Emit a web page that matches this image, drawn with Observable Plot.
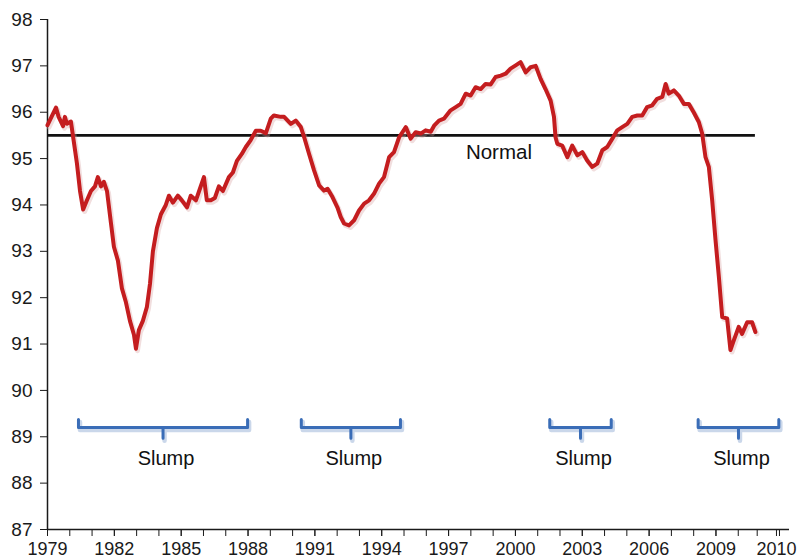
<!DOCTYPE html>
<html>
<head>
<meta charset="utf-8">
<script src="https://cdn.jsdelivr.net/npm/d3@7"></script>
<script src="https://cdn.jsdelivr.net/npm/@observablehq/plot@0.6"></script>
<style>
  html, body { margin: 0; padding: 0; background: #fff; }
  #chart svg { display: block; }
  #chart g[aria-label="y-axis tick label"] { font-size: 19px !important; }
  #chart g[aria-label="x-axis tick label"] { font-size: 18px !important; }
</style>
</head>
<body>
<div id="chart"></div>
<script>
// ---- Data ----
const years = [
  1979.0, 1979.38, 1979.5, 1979.7, 1979.78, 1979.87, 1980.05, 1980.14, 1980.32, 1980.46,
  1980.6, 1980.77, 1980.95, 1981.13, 1981.26, 1981.4, 1981.53, 1981.67, 1981.85, 1981.98,
  1982.16, 1982.34, 1982.52, 1982.7, 1982.88, 1982.97, 1983.1, 1983.28, 1983.46, 1983.6,
  1983.73, 1983.91, 1984.09, 1984.31, 1984.45, 1984.63, 1984.85, 1985.03, 1985.26, 1985.43,
  1985.66, 1985.84, 1986.02, 1986.15, 1986.33, 1986.51, 1986.69, 1986.87, 1987.14, 1987.32,
  1987.5, 1987.72, 1987.9, 1988.12, 1988.35, 1988.57, 1988.8, 1989.02, 1989.16, 1989.47,
  1989.62, 1989.92, 1990.14, 1990.37, 1990.52, 1990.74, 1990.96, 1991.19, 1991.41, 1991.57,
  1991.79, 1992.01, 1992.16, 1992.31, 1992.53, 1992.76, 1992.98, 1993.21, 1993.43, 1993.65,
  1993.88, 1994.1, 1994.33, 1994.55, 1994.78, 1995.08, 1995.3, 1995.52, 1995.75, 1995.97,
  1996.2, 1996.35, 1996.57, 1996.79, 1997.09, 1997.32, 1997.54, 1997.77, 1997.99, 1998.21,
  1998.44, 1998.66, 1998.89, 1999.11, 1999.34, 1999.56, 1999.78, 2000.01, 2000.23, 2000.46,
  2000.68, 2000.91, 2001.13, 2001.35, 2001.58, 2001.73, 2001.8, 2001.88, 2002.1, 2002.33,
  2002.55, 2002.78, 2003.0, 2003.22, 2003.45, 2003.67, 2003.9, 2004.12, 2004.35, 2004.57,
  2004.79, 2005.02, 2005.24, 2005.47, 2005.69, 2005.91, 2006.14, 2006.36, 2006.59, 2006.74,
  2006.88, 2007.11, 2007.33, 2007.56, 2007.78, 2008.0, 2008.23, 2008.38, 2008.53, 2008.68,
  2008.83, 2008.98, 2009.13, 2009.28, 2009.5, 2009.65, 2009.8, 2010.02, 2010.17, 2010.4,
  2010.62, 2010.77
];
const rates = [
  95.72, 96.1, 95.9, 95.7, 95.9, 95.75, 95.8, 95.5, 94.9, 94.3,
  93.9, 94.1, 94.3, 94.4, 94.6, 94.4, 94.5, 94.3, 93.6, 93.1,
  92.8, 92.2, 91.9, 91.5, 91.2, 90.9, 91.3, 91.5, 91.8, 92.3,
  93.0, 93.5, 93.8, 94.0, 94.2, 94.05, 94.2, 94.1, 93.95, 94.2,
  94.1, 94.35, 94.6, 94.1, 94.1, 94.15, 94.4, 94.3, 94.6, 94.7,
  94.95, 95.1, 95.25, 95.4, 95.6, 95.6, 95.55, 95.86, 95.93, 95.9,
  95.9, 95.75, 95.82, 95.68, 95.46, 95.1, 94.75, 94.42, 94.31, 94.35,
  94.17, 93.95, 93.74, 93.6, 93.56, 93.67, 93.88, 94.03, 94.1, 94.24,
  94.46, 94.6, 95.03, 95.14, 95.46, 95.68, 95.43, 95.57, 95.54, 95.61,
  95.58, 95.71, 95.82, 95.86, 96.04, 96.11, 96.18, 96.4, 96.36, 96.54,
  96.5, 96.61, 96.6, 96.76, 96.79, 96.83, 96.94, 97.01, 97.08, 96.86,
  96.97, 97.0, 96.72, 96.5, 96.25, 95.9, 95.46, 95.32, 95.28, 95.03,
  95.28, 95.07, 95.14, 94.96, 94.82, 94.89, 95.18, 95.25, 95.43, 95.61,
  95.68, 95.75, 95.9, 95.93, 95.93, 96.11, 96.15, 96.29, 96.33, 96.61,
  96.4, 96.47, 96.36, 96.18, 96.18, 96.0, 95.79, 95.54, 95.03, 94.82,
  94.1, 93.24, 92.45, 91.58, 91.55, 90.87, 91.08, 91.37, 91.22, 91.47,
  91.47, 91.26
];

const normalLevel = 95.5;
const normalLabel = "Normal";

const slumpStart = [1980.39, 1990.39, 2001.54, 2008.2];
const slumpEnd   = [1987.98, 1994.84, 2004.3, 2011.82];
const slumpLabels = ["Slump", "Slump", "Slump", "Slump"];

const yTicks = [87, 88, 89, 90, 91, 92, 93, 94, 95, 96, 97, 98];
// tick marks as drawn on the reference axis (the last three are unevenly spaced there)
const xTickYears = [...d3.range(1979, 2011), 2010.85, 2011.85];
const xLabelYears = [1979, 1982, 1985, 1988, 1991, 1994, 1997, 2000, 2003, 2006, 2009];
const xLabels = ["1979", "1982", "1985", "1988", "1991", "1994", "1997", "2000", "2003", "2006", "2009"];
const xLastLabelYear = 2011.85;
const xLastLabel = "2010";

// ---- Derived tables ----
const series = years.map((year, i) => ({year, rate: rates[i]}));
const lastYear = years[years.length - 1];
const xLabelMap = new Map(xLabelYears.map((y, i) => [y, xLabels[i]]));

const bracketY = 89.2, capTop = 89.37, tickBottom = 88.97, labelY = 88.52;
const slumps = slumpStart.map((s, i) => ({start: s, end: slumpEnd[i], mid: (s + slumpEnd[i]) / 2, label: slumpLabels[i], id: i}));
const bracketPts = slumps.flatMap(d => [
  {id: d.id, x: d.start, y: capTop},
  {id: d.id, x: d.start, y: bracketY},
  {id: d.id, x: d.mid, y: bracketY},
  {id: d.id, x: d.mid, y: tickBottom},
  {id: d.id, x: d.mid, y: bracketY},
  {id: d.id, x: d.end, y: bracketY},
  {id: d.id, x: d.end, y: capTop}
]);

const xMax = 2012.3;

const chart = Plot.plot({
  width: 797,
  height: 558,
  marginLeft: 47,
  marginRight: 8,
  marginTop: 19,
  marginBottom: 29,
  x: {domain: [1979, xMax]},
  y: {domain: [87, 98]},
  style: {fontFamily: "'Liberation Sans', Arial, Helvetica, sans-serif", fontSize: "18px", color: "#1a1a1a", background: "#fff"},
  marks: [
    Plot.axisY({ticks: yTicks, tickSize: 7, tickPadding: 8, tickFormat: d => String(d), label: null}),
    Plot.axisX({ticks: xTickYears, tickSize: 7, text: null, label: null}),
    Plot.axisX({ticks: xLabelYears, tickSize: 7, tickPadding: 6, tickFormat: d => xLabelMap.get(d), label: null}),
    Plot.axisX({ticks: [xLastLabelYear], tickSize: 7, tickPadding: 6, tickFormat: () => xLastLabel, label: null, dx: -3}),
    Plot.ruleX([1979], {stroke: "#1a1a1a", strokeWidth: 1.5}),
    Plot.ruleY([87], {x1: 1979, x2: xMax, stroke: "#1a1a1a", strokeWidth: 1.5}),
    // Normal line
    Plot.ruleY([normalLevel], {x1: 1979, x2: lastYear, stroke: "#111", strokeWidth: 2.6}),
    Plot.text([normalLabel], {x: 1999.26, y: 95.14, fontSize: 20.5, fill: "#111"}),
    // Slump brackets (shadow + bracket)
    Plot.line(bracketPts, {x: "x", y: "y", z: "id", stroke: "#9fb6d8", strokeOpacity: 0.55, strokeWidth: 4.5, dx: 1.5, dy: 2.5, strokeLinejoin: "round"}),
    Plot.line(bracketPts, {x: "x", y: "y", z: "id", stroke: "#3a6db7", strokeWidth: 3, strokeLinejoin: "round", strokeLinecap: "round"}),
    Plot.text(slumps, {x: "mid", y: () => labelY, text: "label", fontSize: 20, dx: 3, fill: "#111"}),
    // Main series (shadow + line)
    Plot.line(series, {x: "year", y: "rate", stroke: "#d7a0a0", strokeOpacity: 0.35, strokeWidth: 5, dx: 1.5, dy: 2, strokeLinejoin: "round"}),
    Plot.line(series, {x: "year", y: "rate", stroke: "#c41d1f", strokeWidth: 4, strokeLinejoin: "round", strokeLinecap: "round"})
  ]
});
document.getElementById("chart").appendChild(chart);
</script>
</body>
</html>
